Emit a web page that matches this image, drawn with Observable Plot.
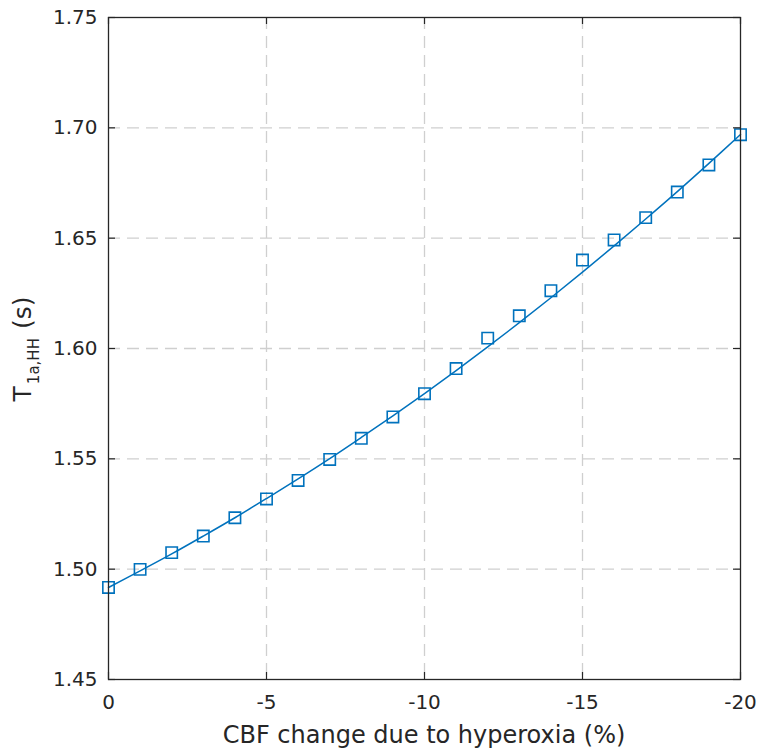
<!DOCTYPE html>
<html><head><meta charset="utf-8">
<script src="https://cdn.jsdelivr.net/npm/d3@7"></script>
<script src="https://cdn.jsdelivr.net/npm/@observablehq/plot@0.6"></script>
<style>
body{margin:0;background:#fff;}
#chart{width:764px;height:753px;}
</style>
</head><body><div id="chart"></div>
<script>
// Data
const cbfChange = [0,-1,-2,-3,-4,-5,-6,-7,-8,-9,-10,-11,-12,-13,-14,-15,-16,-17,-18,-19,-20];
const t1Markers = [1.4917,1.4999,1.5075,1.5150,1.5233,1.5318,1.5402,1.5497,1.5593,1.5690,1.5795,1.5909,1.6047,1.6148,1.6262,1.6401,1.6492,1.6593,1.6709,1.6832,1.6969];
const t1Fit     = [1.4917,1.4992,1.5069,1.5150,1.5233,1.5320,1.5409,1.5501,1.5597,1.5695,1.5796,1.5900,1.6007,1.6117,1.6230,1.6346,1.6465,1.6587,1.6711,1.6839,1.6970];
const xTicks = [0,-5,-10,-15,-20];
const yTicks = [1.45,1.50,1.55,1.60,1.65,1.70,1.75];
const xLabel = "CBF change due to hyperoxia (%)";
const yLabelMain = "T";
const yLabelSub = "1a,HH";
const yLabelUnit = "(s)";

const W = 764, H = 753;
const mL = 108, mR = 24, mT = 17, mB = 74;
const plotW = W - mL - mR, plotH = H - mT - mB;
const ink = "#262626";
const blue = "#0072BD";
const gridStyle = {stroke:"#cfcfcf", strokeWidth:1.3, strokeDasharray:"12,7"};
const tickLen = 7;

const markers = cbfChange.map((x,i)=>({x, y:t1Markers[i]}));
const fit = cbfChange.map((x,i)=>({x, y:t1Fit[i]}));

const chart = Plot.plot({
  width: W, height: H,
  marginLeft: mL, marginRight: mR, marginTop: mT, marginBottom: mB,
  style: {fontFamily:"'DejaVu Sans'", fontSize:"20px", color: ink, background:"#fff"},
  x: {domain:[0,-20], ticks: xTicks, label: null},
  y: {domain:[1.45,1.75], ticks: yTicks, label: null},
  marks: [
    Plot.ruleY(yTicks.slice(1,-1), gridStyle),
    Plot.ruleX(xTicks.slice(1,-1), gridStyle),
    Plot.line(fit, {x:"x", y:"y", stroke:blue, strokeWidth:1.5, curve:"catmull-rom"}),
    Plot.dot(markers, {x:"x", y:"y", symbol:"square", r:6.4, stroke:blue, strokeWidth:1.6, fill:"none"}),
    Plot.tickX(xTicks, {x:d=>d, stroke:ink, strokeWidth:1.2, insetTop: plotH - tickLen}),
    Plot.tickX(xTicks, {x:d=>d, stroke:ink, strokeWidth:1.2, insetBottom: plotH - tickLen}),
    Plot.tickY(yTicks, {y:d=>d, stroke:ink, strokeWidth:1.2, insetRight: plotW - tickLen}),
    Plot.tickY(yTicks, {y:d=>d, stroke:ink, strokeWidth:1.2, insetLeft: plotW - tickLen}),
    Plot.frame({stroke: ink, strokeWidth:1.3}),
    Plot.axisX({ticks: xTicks, tickSize:0, tickPadding:15, fontSize:20, tickFormat: d=>String(d), fill: ink, label:null}),
    Plot.axisY({ticks: yTicks, tickSize:0, tickPadding:11, fontSize:20, tickFormat: d=>d.toFixed(2), fill: ink, label:null})
  ]
});
document.getElementById("chart").appendChild(chart);

const svg = d3.select(chart);
svg.append("text")
  .attr("x", mL + plotW/2).attr("y", 743)
  .attr("text-anchor","middle")
  .attr("font-family","DejaVu Sans").attr("font-size", 24).attr("fill", ink)
  .text(xLabel);
const yl = svg.append("text")
  .attr("transform", `translate(31,${mT + plotH/2 + 1}) rotate(-90)`)
  .attr("text-anchor","middle")
  .attr("font-family","DejaVu Sans").attr("font-size", 25).attr("fill", ink);
yl.append("tspan").text(yLabelMain);
yl.append("tspan").attr("font-size", 15).attr("dy", 8).attr("dx", 2).text(yLabelSub);
yl.append("tspan").attr("dy", -8).attr("dx", 9).text(yLabelUnit);
</script>
</body></html>
